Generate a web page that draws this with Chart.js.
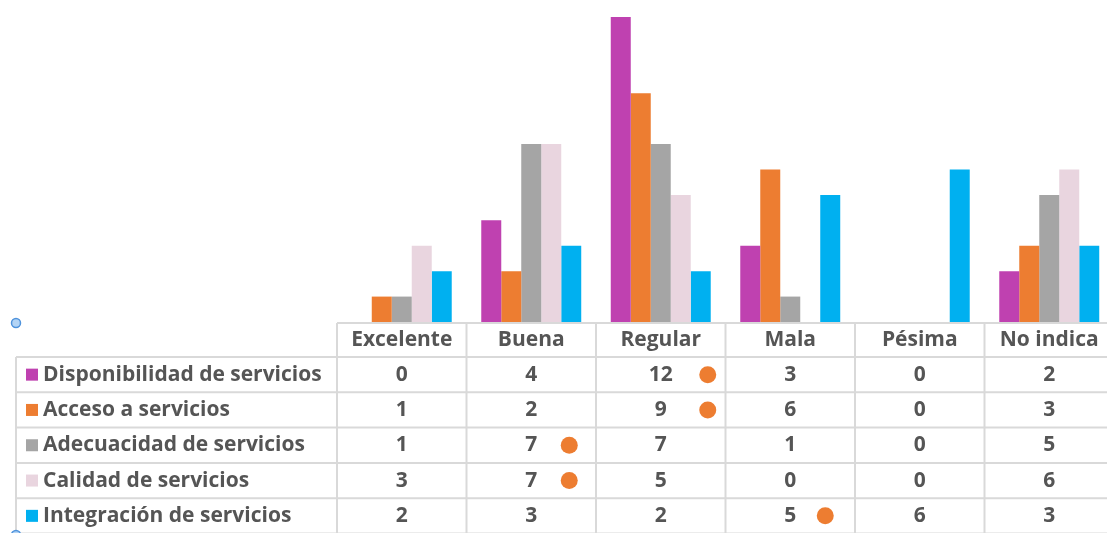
<!DOCTYPE html>
<html>
<head>
<meta charset="utf-8">
<script src="https://cdn.jsdelivr.net/npm/chart.js@4"></script>
<style>
    html, body { margin: 0; padding: 0; background: #fff; overflow: hidden; }
    #wrap { width: 1107px; height: 533px; overflow: hidden; }
</style>
</head>
<body>
<div id="wrap"><canvas id="surveyChart" width="1120" height="533"></canvas></div>
<script>
// Ratings (columns) and services (rows)
const categories = ['Excelente', 'Buena', 'Regular', 'Mala', 'Pésima', 'No indica'];
const seriesNames = [
    'Disponibilidad de servicios',
    'Acceso a servicios',
    'Adecuacidad de servicios',
    'Calidad de servicios',
    'Integración de servicios'
];
const disponibilidad = [0, 4, 12, 3, 0, 2];
const acceso = [1, 2, 9, 6, 0, 3];
const adecuacidad = [1, 7, 7, 1, 0, 5];
const calidad = [3, 7, 5, 0, 0, 6];
const integracion = [2, 3, 2, 5, 6, 3];
const seriesColors = ['#bf41b0', '#ed7d31', '#a5a5a5', '#e9d5df', '#00b0f0'];

// Highlighted cells in the table: [row, column, x offset from cell centre]
const flaggedCells = [[0, 2, 47], [1, 2, 47], [2, 1, 38], [3, 1, 38], [4, 3, 35]];

const seriesValues = [disponibilidad, acceso, adecuacidad, calidad, integracion];

const FONT = 'bold 21px "Open Sans", "DejaVu Sans", sans-serif';
const TEXT_COLOR = '#555555';
const LINE_COLOR = '#d9d9d9';

// Draws the data table under the bars, with the legend keys in the first column
const dataTablePlugin = {
    id: 'dataTable',
    afterDraw(chart) {
        const ctx = chart.ctx;
        const area = chart.chartArea;
        const xScale = chart.scales.x;
        const colW = area.width / categories.length;
        const tableLeft = 16;
        const headerTop = area.bottom + 1;
        const headerH = 34;
        const rowH = 35.3;
        const rowsTop = headerTop + headerH;
        const bottom = rowsTop + rowH * seriesNames.length + 2;

        ctx.save();
        ctx.strokeStyle = LINE_COLOR;
        ctx.lineWidth = 2;

        // horizontal lines
        ctx.beginPath();
        ctx.moveTo(area.left, headerTop);
        ctx.lineTo(area.right, headerTop);
        for (let r = 0; r <= seriesNames.length; r++) {
            const y = rowsTop + r * rowH;
            ctx.moveTo(tableLeft, y);
            ctx.lineTo(area.right, y);
        }
        // vertical lines
        ctx.moveTo(tableLeft, rowsTop);
        ctx.lineTo(tableLeft, bottom);
        for (let c = 0; c <= categories.length; c++) {
            const x = area.left + c * colW;
            ctx.moveTo(x, headerTop);
            ctx.lineTo(x, bottom);
        }
        ctx.stroke();

        ctx.font = FONT;
        ctx.fillStyle = TEXT_COLOR;
        ctx.textBaseline = 'middle';
        ctx.textAlign = 'center';

        // header labels
        categories.forEach((cat, i) => {
            ctx.fillText(cat, xScale.getPixelForValue(i), headerTop + headerH / 2);
        });

        // rows: legend key, name and values
        seriesNames.forEach((name, r) => {
            const cy = rowsTop + r * rowH + rowH / 2;
            ctx.fillStyle = seriesColors[r];
            ctx.fillRect(tableLeft + 10, cy - 6, 12, 12);
            ctx.fillStyle = TEXT_COLOR;
            ctx.textAlign = 'left';
            ctx.fillText(name, tableLeft + 27, cy);
            ctx.textAlign = 'center';
            seriesValues[r].forEach((v, c) => {
                ctx.fillText(String(v), xScale.getPixelForValue(c), cy);
            });
        });

        // orange markers on flagged cells
        ctx.fillStyle = '#ed7d31';
        flaggedCells.forEach(([r, c, dx]) => {
            const cy = rowsTop + r * rowH + rowH / 2;
            ctx.beginPath();
            ctx.arc(xScale.getPixelForValue(c) + dx, cy, 8.5, 0, Math.PI * 2);
            ctx.fill();
        });

        // selection handles on the frame
        ctx.fillStyle = '#b3d4f5';
        ctx.strokeStyle = '#4f93dc';
        ctx.lineWidth = 1.5;
        [[16, headerTop], [16, 535]].forEach(([x, y]) => {
            ctx.beginPath();
            ctx.arc(x, y, 4.5, 0, Math.PI * 2);
            ctx.fill();
            ctx.stroke();
        });
        ctx.restore();
    }
};

const ctx = document.getElementById('surveyChart').getContext('2d');
const surveyChart = new Chart(ctx, {
    type: 'bar',
    data: {
        labels: categories,
        datasets: seriesNames.map((name, i) => ({
            label: name,
            data: seriesValues[i],
            backgroundColor: seriesColors[i],
            borderWidth: 0,
            categoryPercentage: 0.772,
            barPercentage: 1
        }))
    },
    options: {
        responsive: false,
        devicePixelRatio: 1,
        animation: false,
        layout: {
            padding: { left: 337, right: 6, top: 17, bottom: 211 }
        },
        plugins: {
            legend: { display: false },
            tooltip: { enabled: false }
        },
        scales: {
            x: { display: false },
            y: { display: false, min: 0, max: 12 }
        }
    },
    plugins: [dataTablePlugin]
});
</script>
</body>
</html>
